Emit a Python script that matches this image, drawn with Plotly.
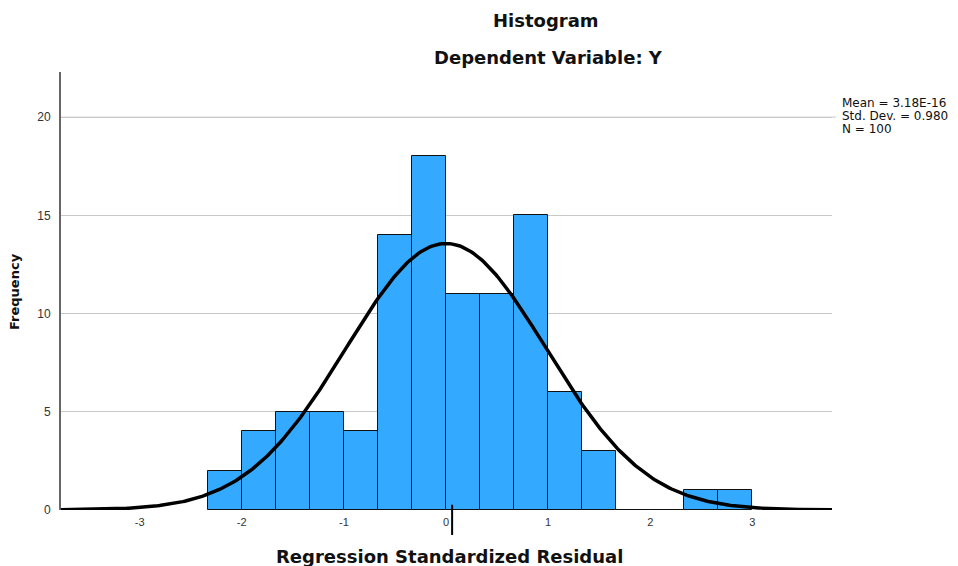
import numpy as np
import plotly.graph_objects as go

# Data
bin_left_edges = [-7/3, -2, -5/3, -4/3, -1, -2/3, -1/3, 0, 1/3, 2/3, 1, 4/3, 5/3, 2, 7/3, 8/3]
bin_counts = [2, 4, 5, 5, 4, 14, 18, 11, 11, 15, 6, 3, 0, 0, 1, 1]
bin_width = 1/3
mean_val = 3.18e-16
std_val = 0.980
n_val = 100
x_ticks = [-3, -2, -1, 0, 1, 2, 3]
y_ticks = [0, 5, 10, 15, 20]
stats_lines = ["Mean = 3.18E-16", "Std. Dev. = 0.980", "N = 100"]

centers = [e + bin_width / 2 for e in bin_left_edges]

xs = np.linspace(-3.77, 3.78, 400)
ys = n_val * bin_width * np.exp(-0.5 * ((xs - mean_val) / std_val) ** 2) / (std_val * np.sqrt(2 * np.pi))

FONT = "Liberation Sans, Arial, sans-serif"
TFONT = "DejaVu Sans, Verdana, sans-serif"

fig = go.Figure()
fig.add_trace(go.Bar(
    x=centers, y=bin_counts, width=[bin_width] * len(centers),
    marker=dict(color="#33aaff", line=dict(color="#111111", width=1)),
    hoverinfo="skip", showlegend=False,
))
fig.add_trace(go.Scatter(
    x=xs, y=ys, mode="lines", line=dict(color="#000000", width=3.5),
    hoverinfo="skip", showlegend=False, cliponaxis=False,
))

annotations = [
    dict(text="<b>Histogram</b>", xref="paper", yref="paper", x=0.629, y=1.1187,
         xanchor="center", yanchor="middle", showarrow=False,
         font=dict(family=TFONT, size=18, color="#111111")),
    dict(text="<b>Dependent Variable: Y</b>", xref="paper", yref="paper", x=0.632, y=1.0342,
         xanchor="center", yanchor="middle", showarrow=False,
         font=dict(family=TFONT, size=18, color="#111111")),
    dict(text="<b>Regression Standardized Residual</b>", xref="paper", yref="paper", x=0.5045, y=-0.107,
         xanchor="center", yanchor="middle", showarrow=False,
         font=dict(family=TFONT, size=18, color="#111111")),
    dict(text="<b>Frequency</b>", xref="paper", yref="paper", x=-0.061, y=0.50,
         xanchor="center", yanchor="middle", textangle=-90, showarrow=False,
         font=dict(family=TFONT, size=13, color="#111111")),
]
for i, line in enumerate(stats_lines):
    annotations.append(dict(
        text=line, xref="paper", yref="paper", x=1.0104, y=0.929 - i * 0.0297,
        xanchor="left", yanchor="middle", showarrow=False,
        font=dict(family=TFONT, size=12, color="#111111")))

fig.update_layout(
    width=958, height=566,
    margin=dict(l=61, r=126, t=72, b=56),
    paper_bgcolor="white", plot_bgcolor="white",
    bargap=0,
    font=dict(family=FONT, color="#333333"),
    xaxis=dict(
        range=[-3.77, 3.78], tickvals=x_ticks, ticktext=[str(t) for t in x_ticks],
        showgrid=False, zeroline=False, showline=False, ticks="",
        tickfont=dict(size=11, color="#333333"), ticklabelstandoff=4,
    ),
    yaxis=dict(
        range=[0, 22.3], tickvals=y_ticks, ticktext=[str(t) for t in y_ticks],
        showgrid=True, gridcolor="#c8c8c8", gridwidth=1, zeroline=False,
        showline=True, linecolor="#666666", linewidth=2, ticks="",
        tickfont=dict(size=12, color="#333333"), ticklabelstandoff=6,
    ),
    annotations=annotations,
    shapes=[
        dict(type="line", xref="paper", yref="paper", x0=0, x1=1.005, y0=20 / 22.3, y1=20 / 22.3,
             line=dict(color="#c8c8c8", width=1), layer="below"),
        dict(type="line", xref="x", yref="paper", x0=0.06, x1=0.06, y0=0.012, y1=-0.057,
             line=dict(color="#000000", width=2)),
    ],
)

fig.write_html("out.html")
